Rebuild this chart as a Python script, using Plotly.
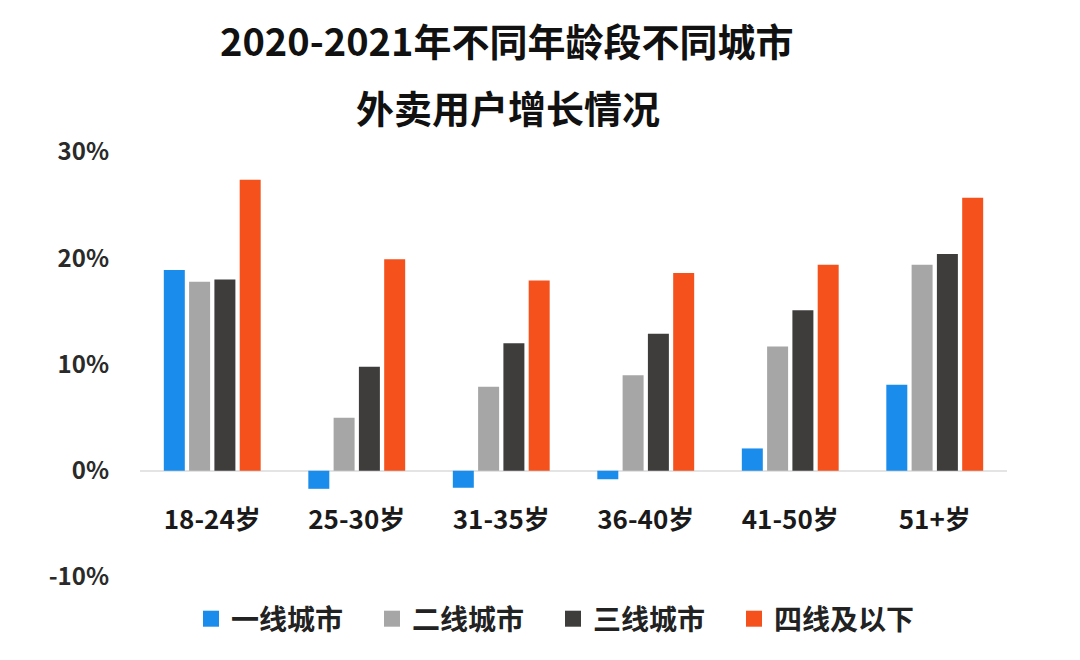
import plotly.graph_objects as go

categories = ["18-24岁", "25-30岁", "31-35岁", "36-40岁", "41-50岁", "51+岁"]
tier1 = [18.9, -1.7, -1.6, -0.8, 2.1, 8.1]
tier2 = [17.8, 5.0, 7.9, 9.0, 11.7, 19.4]
tier3 = [18.0, 9.8, 12.0, 12.9, 15.1, 20.4]
tier4 = [27.4, 19.9, 17.9, 18.6, 19.4, 25.7]
series_names = ["一线城市", "二线城市", "三线城市", "四线及以下"]
colors = ["#1a8ceb", "#a6a6a6", "#3f3d3c", "#f5511d"]
y_ticks = [-10, 0, 10, 20, 30]
title_line1 = "2020-2021年不同年龄段不同城市"
title_line2 = "外卖用户增长情况"

FONT = "Noto Sans CJK SC, Noto Sans, sans-serif"

fig = go.Figure()
for name, vals, col in zip(series_names, [tier1, tier2, tier3, tier4], colors):
    fig.add_trace(go.Bar(x=categories, y=vals, name=name, showlegend=False,
                         marker=dict(color=col, line=dict(width=0))))
# legend entries with larger square swatches
for name, col in zip(series_names, colors):
    fig.add_trace(go.Scatter(x=[None], y=[None], mode="markers", name=name,
                             marker=dict(symbol="square", size=18, color=col)))

W, H = 1080, 660
L, R, T, B = 132, 81, 144, 91
PH = H - T - B
PW = W - L - R

def py(fig_y):
    return (H - B - fig_y) / PH

fig.update_layout(
    width=W, height=H,
    margin=dict(l=L, r=R, t=T, b=B),
    paper_bgcolor="white", plot_bgcolor="white",
    barmode="group", bargap=0.30, bargroupgap=0.17,
    font=dict(family=FONT, color="#222222"),
    showlegend=True,
    legend=dict(orientation="h", x=(545 - L) / PW, xanchor="center", y=py(611), yanchor="middle",
                font=dict(size=28, family=FONT, weight="bold", color="#222222"),
                itemwidth=30, traceorder="normal", itemsizing="trace",
                entrywidth=136, entrywidthmode="pixels"),
    xaxis=dict(type="category", anchor="free", position=py(494), showline=False, showgrid=False,
               zeroline=False, ticks="", tickfont=dict(size=26, family=FONT, weight="bold", color="#1a1a1a")),
    yaxis=dict(range=[-10, 30], tickvals=y_ticks, ticktext=[f"{v}%" for v in y_ticks],
               showgrid=False, zeroline=True, zerolinecolor="#e4e4e4", zerolinewidth=1.5,
               showline=False, ticks="", ticklabelstandoff=30,
               tickfont=dict(size=24, family=FONT, weight="bold", color="#2a2a2a")),
    annotations=[
        dict(text=title_line1, xref="paper", yref="paper", x=(498 - L) / PW, y=py(31),
             xanchor="center", yanchor="middle", showarrow=False,
             font=dict(size=38, family=FONT, weight="bold", color="#111111")),
        dict(text=title_line2, xref="paper", yref="paper", x=(500 - L) / PW, y=py(99),
             xanchor="center", yanchor="middle", showarrow=False,
             font=dict(size=38, family=FONT, weight="bold", color="#111111")),
    ],
)

fig.write_html("out.html")
